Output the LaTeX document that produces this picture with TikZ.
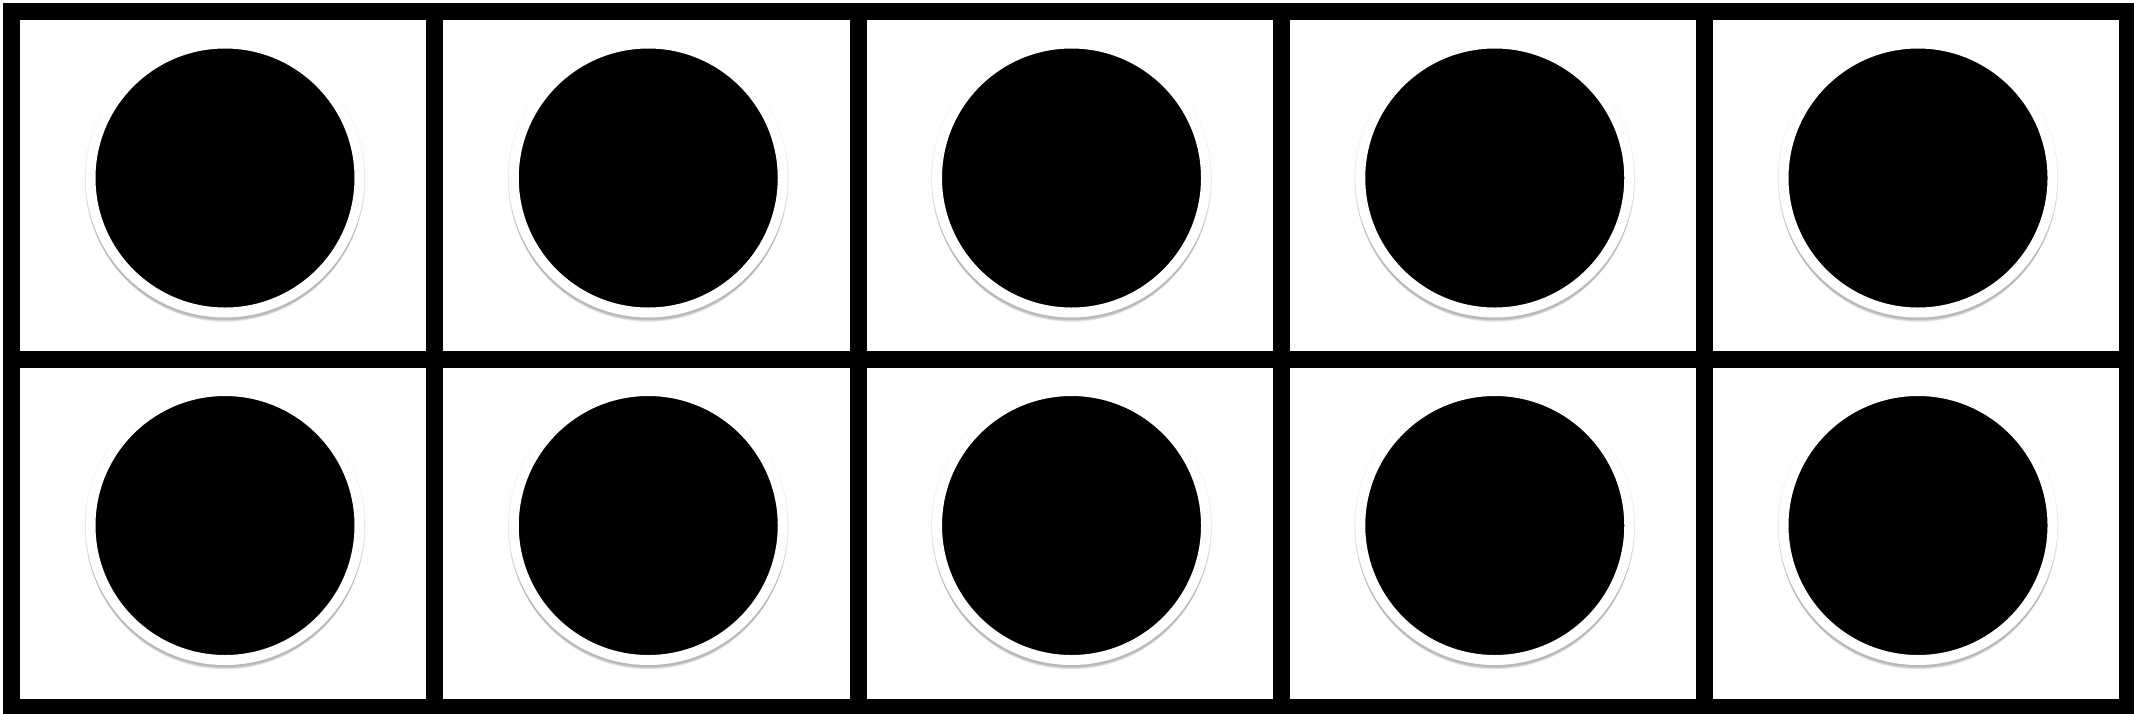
\documentclass[tikz,border=0pt]{standalone}
\begin{document}
\begin{tikzpicture}[x=1pt,y=-1pt,
  gridline/.style={line width=17pt, line cap=rect, draw=black},
  dot/.style={circle, fill=black, draw=white, line width=10pt, minimum size=269pt, inner sep=0pt},
  dotshadow/.style={circle, fill=black, fill opacity=0.05, draw=none, inner sep=0pt}]
\useasboundingbox (0,0) rectangle (2134,713);
\fill[white] (0,0) rectangle (2134,713);
% cells
\foreach \r/\cy in {0/178,1/525.5}{
  \foreach \c in {0,...,4}{
    \pgfmathsetmacro{\cx}{225+423.25*\c}
    \foreach \s/\d in {281/1,280/2,279/3,278/4,277/5,276/6}{
      \node[dotshadow, minimum size=\s pt] at (\cx,\cy+\d) {};
    }
    \node[dot] (d\r\c) at (\cx,\cy) {};
  }
}
% grid
\draw[gridline] (11.5,11.5) rectangle (2127.75,707.5);
\draw[gridline] (11.5,359.5) -- (2127.75,359.5);
\foreach \k in {1,...,4}{
  \draw[gridline] ({11.5+423.25*\k},11.5) -- ({11.5+423.25*\k},707.5);
}
\end{tikzpicture}
\end{document}
